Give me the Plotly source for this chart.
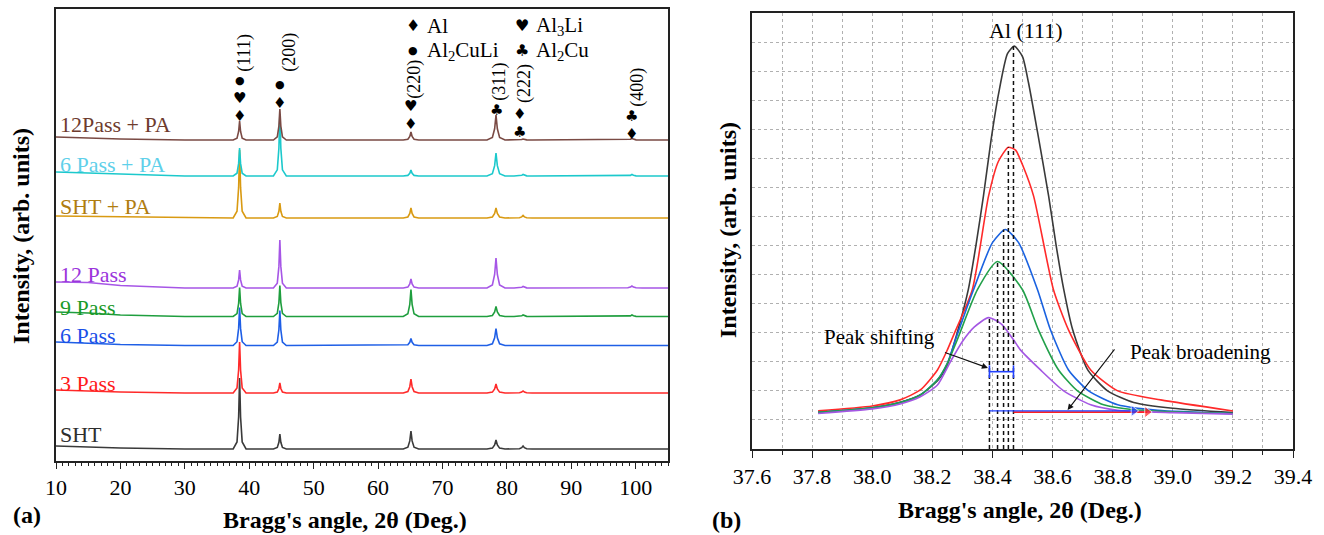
import plotly.graph_objects as go

# ---------------- Panel (a): XRD patterns ----------------
peak_pos = [38.5, 44.75, 65.1, 78.3, 82.5, 99.4]          # 2theta of (111),(200),(220),(311),(222),(400)
peak_width = [1.0, 1.0, 1.2, 1.4, 1.4, 1.6]               # relative peak base width
bg_x = [10, 15, 20, 30, 105]

names = ["SHT", "3 Pass", "6 Pass", "9 Pass", "12 Pass", "SHT + PA", "6 Pass + PA", "12Pass + PA"]
line_colors = ["#3a3a3a", "#ff2a2a", "#1f5fe6", "#1f9e3e", "#a656e6", "#d99a12", "#1cc9cc", "#7a4a44"]
text_colors = ["#2e2e2e", "#ff1a1a", "#1a4fe8", "#1a9a28", "#9b35dc", "#b07d10", "#5fd0ea", "#6e3b2e"]

bg_SHT      = [15, 14, 13, 12, 12]
bg_3P       = [71, 70, 69, 68, 68]
bg_6P       = [119, 118, 116.5, 115.5, 115.5]
bg_9P       = [149, 148, 146, 144.5, 144.5]
bg_12P      = [179, 178.5, 175.5, 173, 173]
bg_SHTPA    = [245, 244.5, 244, 243, 243]
bg_6PPA     = [289, 288, 286.5, 285, 285]
bg_12PPA    = [324, 323, 322, 321, 321]

h_SHT   = [71, 15, 18, 9, 3, 0.5]
h_3P    = [51, 10, 14, 9, 2, 0.5]
h_6P    = [38, 35, 7, 17, 0.5, 0.5]
h_9P    = [29, 31, 27, 10, 1.5, 1.5]
h_12P   = [18, 48, 9, 30, 1.5, 2]
h_SHTPA = [68, 15, 10, 10, 2.5, 0.5]
h_6PPA  = [28, 62, 6, 23, 1.5, 1.5]
h_12PPA = [19, 31, 8, 25, 1, 1.5]

backgrounds = [bg_SHT, bg_3P, bg_6P, bg_9P, bg_12P, bg_SHTPA, bg_6PPA, bg_12PPA]
heights = [h_SHT, h_3P, h_6P, h_9P, h_12P, h_SHTPA, h_6PPA, h_12PPA]
label_y = [26.5, 77.5, 125.5, 153.5, 186.5, 254.5, 296.5, 336]

# peak outline template (style only)
tpl_dx = [-1.0, -0.4, -0.15, 0.0, 0.15, 0.4, 1.0]
tpl_fr = [0.0, 0.1, 0.45, 1.0, 0.45, 0.1, 0.0]

# ---------------- Panel (b): Al(111) peak ----------------
b_names = ["SHT", "3 Pass", "6 Pass", "9 Pass", "12 Pass"]
b_colors = ["#3a3a3a", "#ff2a2a", "#1a62e0", "#22a04a", "#a457e3"]
bx_SHT = [37.82, 38.0, 38.09, 38.16, 38.22, 38.25, 38.28, 38.32, 38.345, 38.37, 38.395, 38.42, 38.45, 38.473,
          38.5, 38.52, 38.55, 38.587, 38.612, 38.637, 38.667, 38.717, 38.783, 38.87, 39.0, 39.2]
by_SHT = [1.26, 1.42, 1.6, 1.86, 2.38, 2.9, 3.9, 5.5, 7.0, 8.7, 10.6, 12.2, 13.6, 13.86,
          13.5, 12.6, 10.9, 8.7, 7.0, 5.5, 4.1, 2.72, 2.0, 1.6, 1.4, 1.25]
bx_3P = [37.82, 38.0, 38.093, 38.16, 38.217, 38.25, 38.27, 38.333, 38.387, 38.42, 38.453, 38.477,
         38.503, 38.537, 38.603, 38.653, 38.727, 38.817, 38.96, 39.2]
by_3P = [1.31, 1.48, 1.69, 2.03, 2.72, 3.41, 3.9, 5.48, 8.7, 9.9, 10.38, 10.28,
         9.7, 8.7, 5.48, 4.1, 2.72, 2.0, 1.69, 1.31]
bx_6P = [37.82, 38.0, 38.093, 38.16, 38.217, 38.25, 38.277, 38.337, 38.4, 38.443, 38.487, 38.55,
         38.593, 38.653, 38.72, 38.817, 38.95, 39.2]
by_6P = [1.26, 1.42, 1.6, 1.86, 2.38, 2.95, 3.76, 5.48, 7.1, 7.55, 7.1, 5.48,
         4.1, 2.72, 2.0, 1.52, 1.33, 1.22]
bx_9P = [37.82, 38.0, 38.093, 38.16, 38.217, 38.25, 38.283, 38.35, 38.417, 38.5, 38.553, 38.62,
         38.683, 38.77, 38.87, 39.2]
by_9P = [1.26, 1.42, 1.6, 1.86, 2.38, 2.95, 3.76, 5.48, 6.45, 5.48, 4.1, 2.72,
         2.0, 1.52, 1.35, 1.22]
bx_12P = [37.82, 38.0, 38.093, 38.16, 38.217, 38.26, 38.3, 38.34, 38.387, 38.43, 38.47, 38.493,
          38.56, 38.637, 38.727, 38.817, 39.0, 39.2]
by_12P = [1.22, 1.38, 1.55, 1.8, 2.2, 3.0, 3.7, 4.2, 4.52, 4.3, 3.76, 3.41,
          2.72, 2.0, 1.52, 1.33, 1.25, 1.2]
b_xs = [bx_SHT, bx_3P, bx_6P, bx_9P, bx_12P]
b_ys = [by_SHT, by_3P, by_6P, by_9P, by_12P]

peak_centre = [38.47, 38.453, 38.437, 38.417, 38.39]
peak_top = [13.86, 10.38, 7.55, 6.45, 4.52]

shift_x = [38.39, 38.47]
shift_y = 2.66
broad_blue_x = [38.39, 38.87]
broad_red_x = [38.47, 38.915]
broad_y = [1.31, 1.27]

SERIF = "Liberation Serif"

fig = go.Figure()

# ---- panel (a) traces
for name, col, bg, hs in zip(names, line_colors, backgrounds, heights):
    xs, ys = [], []
    for bx, bv in zip(bg_x[:4], bg[:4]):
        xs.append(bx); ys.append(bv)
    base = bg[3]
    for c, w, h in zip(peak_pos, peak_width, hs):
        for dx, fr in zip(tpl_dx, tpl_fr):
            xs.append(c + dx * w); ys.append(base + fr * h)
    xs.append(bg_x[4]); ys.append(bg[4])
    fig.add_trace(go.Scatter(x=xs, y=ys, mode="lines", line=dict(color=col, width=1.6),
                             name=name, showlegend=False, xaxis="x", yaxis="y", hoverinfo="skip"))

# ---- panel (b) traces
for name, col, xs, ys in zip(b_names, b_colors, b_xs, b_ys):
    fig.add_trace(go.Scatter(x=xs, y=ys, mode="lines", line=dict(color=col, width=1.6, shape="spline", smoothing=0.6),
                             name=name, showlegend=False, xaxis="x2", yaxis="y2", hoverinfo="skip"))

for c, t in zip(peak_centre, peak_top):
    fig.add_trace(go.Scatter(x=[c, c], y=[0, t], mode="lines",
                             line=dict(color="#111", width=1.5, dash="4px,3px"),
                             showlegend=False, xaxis="x2", yaxis="y2", hoverinfo="skip"))

fig.add_trace(go.Scatter(x=shift_x, y=[shift_y, shift_y], mode="lines+markers",
                         line=dict(color="#2040ff", width=1.6),
                         marker=dict(symbol="line-ns-open", size=9, color="#2040ff", line=dict(width=1.6, color="#2040ff")),
                         showlegend=False, xaxis="x2", yaxis="y2", hoverinfo="skip"))
fig.add_trace(go.Scatter(x=broad_red_x, y=[broad_y[1]] * 2, mode="lines+markers",
                         line=dict(color="#ff2020", width=1.6),
                         marker=dict(symbol="triangle-right", size=[0, 10], color="#ff2020"),
                         showlegend=False, xaxis="x2", yaxis="y2", hoverinfo="skip"))
fig.add_trace(go.Scatter(x=broad_blue_x, y=[broad_y[0]] * 2, mode="lines+markers",
                         line=dict(color="#2040ff", width=1.4),
                         marker=dict(symbol="triangle-right", size=[0, 10], color="#2040ff"),
                         showlegend=False, xaxis="x2", yaxis="y2", hoverinfo="skip"))

ann = []
# series labels (a)
for name, tc, ly in zip(names, text_colors, label_y):
    ann.append(dict(x=10.3, y=ly, xref="x", yref="y", text=name, showarrow=False, xanchor="left", yanchor="middle",
                    font=dict(family=SERIF, size=22, color=tc)))

SYM = "DejaVu Sans"
def sym(x, y, s, size=15):
    ann.append(dict(x=x, y=y, xref="x", yref="y", text=s, showarrow=False, xanchor="center", yanchor="middle",
                    font=dict(family=SYM, size=size, color="black")))
def hkl(x, y, s):
    ann.append(dict(x=x, y=y, xref="x", yref="y", text=s, showarrow=False, textangle=-90,
                    xanchor="center", yanchor="middle", font=dict(family=SERIF, size=18, color="black")))

# (111)
sym(38.5, 345, "♦"); sym(38.5, 363, "♥"); sym(38.5, 380, "●", 11); hkl(39.3, 408, "(111)")
# (200)
sym(44.75, 358, "♦"); sym(44.75, 376, "●", 11); hkl(46.2, 408.5, "(200)")
# (220)
sym(65.1, 337, "♦"); sym(65.1, 355, "♥"); hkl(65.7, 382, "(220)")
# (311)
sym(78.3, 351, "♣"); hkl(78.9, 379, "(311)")
# (222)
sym(82.0, 347, "♦"); sym(82.0, 329, "♣"); hkl(82.8, 378, "(222)")
# (400)
sym(99.4, 345, "♣"); sym(99.4, 327, "♦"); hkl(100.3, 374, "(400)")

# phase legend
legend_items = [("♦", "Al", 65.4, 435), ("♥", "Al<sub>3</sub>Li", 82.3, 435),
                ("●", "Al<sub>2</sub>CuLi", 65.4, 410), ("♣", "Al<sub>2</sub>Cu", 82.3, 410)]
for s, t, lx, ly in legend_items:
    ann.append(dict(x=lx, y=ly, xref="x", yref="y", text=s, showarrow=False, xanchor="center", yanchor="middle",
                    font=dict(family=SYM, size=16 if s != "●" else 11, color="black")))
    ann.append(dict(x=lx + 1.9, y=ly, xref="x", yref="y", text=t, showarrow=False, xanchor="left", yanchor="middle",
                    font=dict(family=SERIF, size=21, color="black")))

# panel (b) texts
ann.append(dict(x=38.51, y=14.4, xref="x2", yref="y2", text="Al (111)", showarrow=False,
                font=dict(family=SERIF, size=22, color="black")))
ann.append(dict(x=38.025, y=3.86, xref="x2", yref="y2", text="Peak shifting", showarrow=False,
                font=dict(family=SERIF, size=21, color="black")))
ann.append(dict(x=39.093, y=3.34, xref="x2", yref="y2", text="Peak broadening", showarrow=False,
                font=dict(family=SERIF, size=21, color="black")))
ann.append(dict(x=38.385, y=2.79, ax=38.237, ay=3.34, xref="x2", yref="y2", axref="x2", ayref="y2",
                text="", showarrow=True, arrowhead=2, arrowsize=1.1, arrowwidth=1.1, arrowcolor="#111"))
ann.append(dict(x=38.65, y=1.34, ax=38.81, ay=3.48, xref="x2", yref="y2", axref="x2", ayref="y2",
                text="", showarrow=True, arrowhead=2, arrowsize=1.1, arrowwidth=1.1, arrowcolor="#111"))

# axis titles & panel tags
TF = dict(family=SERIF, size=24, color="black")
ann += [
    dict(x=345 / 1324, y=1 - 520 / 535, xref="paper", yref="paper", text="<b>Bragg's angle, 2θ (Deg.)</b>",
         showarrow=False, font=TF, xanchor="center", yanchor="middle"),
    dict(x=1020 / 1324, y=1 - 510 / 535, xref="paper", yref="paper", text="<b>Bragg's angle, 2θ (Deg.)</b>",
         showarrow=False, font=TF, xanchor="center", yanchor="middle"),
    dict(x=21 / 1324, y=1 - 236 / 535, xref="paper", yref="paper", text="<b>Intensity, (arb. units)</b>",
         showarrow=False, font=TF, textangle=-90, xanchor="center", yanchor="middle"),
    dict(x=728 / 1324, y=1 - 230 / 535, xref="paper", yref="paper", text="<b>Intensity, (arb. units)</b>",
         showarrow=False, font=TF, textangle=-90, xanchor="center", yanchor="middle"),
    dict(x=27 / 1324, y=1 - 515 / 535, xref="paper", yref="paper", text="<b>(a)</b>",
         showarrow=False, font=TF, xanchor="center", yanchor="middle"),
    dict(x=726 / 1324, y=1 - 520 / 535, xref="paper", yref="paper", text="<b>(b)</b>",
         showarrow=False, font=TF, xanchor="center", yanchor="middle"),
]

AX = dict(showline=True, linecolor="#222", linewidth=1.6, mirror=True, zeroline=False, automargin=False)
fig.update_layout(
    width=1324, height=535, margin=dict(l=0, r=0, t=0, b=0, autoexpand=False),
    paper_bgcolor="white", plot_bgcolor="white", showlegend=False,
    annotations=ann,
    xaxis=dict(domain=[56 / 1324, 668 / 1324], range=[10, 105], dtick=10, tick0=10, ticks="outside", ticklen=6,
               tickwidth=1.4, tickcolor="#222", showgrid=False,
               minor=dict(dtick=1, ticks="outside", ticklen=3, tickwidth=1, tickcolor="#222"),
               tickfont=dict(family=SERIF, size=22, color="black"), anchor="y", **AX),
    yaxis=dict(domain=[1 - 461 / 535, 1 - 9 / 535], range=[0, 452], showticklabels=False, ticks="",
               showgrid=False, anchor="x", **AX),
    xaxis2=dict(domain=[752 / 1324, 1293 / 1324], range=[37.6, 39.4], dtick=0.2, tick0=37.6, tickformat=".1f",
                ticks="outside", ticklen=7, tickwidth=1.4, tickcolor="#222",
                showgrid=True, gridcolor="#b0b0b0", griddash="dot", gridwidth=1,
                minor=dict(dtick=0.1, ticks="outside", ticklen=4, tickwidth=1, tickcolor="#222",
                           showgrid=True, gridcolor="#b0b0b0", griddash="dot", gridwidth=1),
                tickfont=dict(family=SERIF, size=22, color="black"), anchor="y2", **AX),
    yaxis2=dict(domain=[1 - 449 / 535, 1 - 13 / 535], range=[0, 15], dtick=1, showticklabels=False, ticks="",
                showgrid=True, gridcolor="#b0b0b0", griddash="dot", gridwidth=1, anchor="x2", **AX),
)

fig.write_html("out.html")
